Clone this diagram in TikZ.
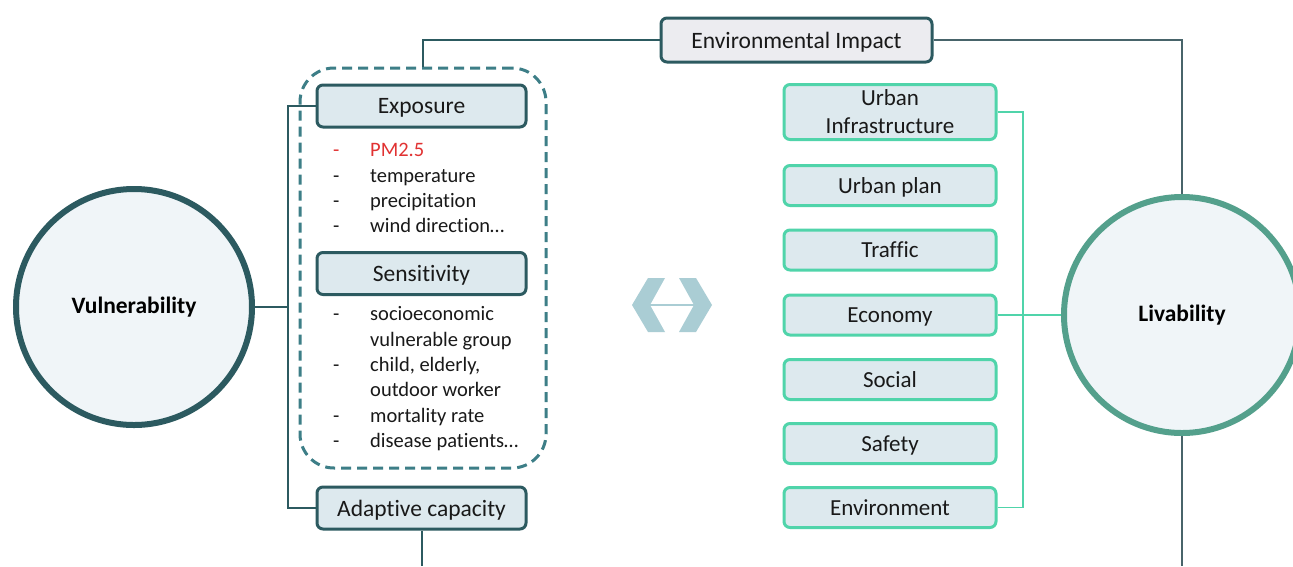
\documentclass[tikz,border=0pt]{standalone}
\usepackage{fontspec}
\setmainfont{Carlito}[Ligatures={NoCommon}]
\usetikzlibrary{calc}
\definecolor{darkc}{RGB}{44,90,96}
\definecolor{dashc}{RGB}{61,126,135}
\definecolor{greenc}{RGB}{80,212,170}
\definecolor{livc}{RGB}{84,160,140}
\definecolor{linec}{RGB}{72,100,106}
\definecolor{circfill}{RGB}{240,245,248}
\definecolor{boxfill}{RGB}{221,233,238}
\definecolor{envfill}{RGB}{236,236,240}
\definecolor{iconc}{RGB}{170,205,212}
\definecolor{redc}{RGB}{225,50,50}
\definecolor{textc}{RGB}{25,25,25}
\tikzset{
  bigcircle/.style={circle, minimum size=236pt, line width=6pt, fill=circfill, inner sep=0pt,
     font=\fontsize{23.5}{26}\selectfont\bfseries, text=black},
  darkbox/.style={draw=darkc, line width=3pt, rounded corners=6pt, fill=boxfill,
     minimum width=209pt, minimum height=42pt, inner sep=0pt, text=textc, text depth=0pt,
     font=\fontsize{23.5}{26}\selectfont},
  greenbox/.style={draw=greenc, line width=3pt, rounded corners=6pt, fill=boxfill,
     minimum width=212pt, minimum height=40pt, inner sep=0pt, text=textc, align=center,
     font=\fontsize{23}{28}\selectfont},
  dashbox/.style={draw=dashc, line width=3pt, dash pattern=on 10pt off 6pt, rounded corners=34pt,
     minimum width=246pt, minimum height=400pt, inner sep=0pt},
  darkline/.style={draw=darkc, line width=2pt},
  greyline/.style={draw=linec, line width=2pt},
  greenline/.style={draw=greenc, line width=1.8pt},
  listtext/.style={anchor=north west, inner sep=0pt, text=textc, font=\fontsize{20.5}{25.3}\selectfont},
}
\begin{document}
\begin{tikzpicture}[x=1pt,y=-1pt]
\useasboundingbox[fill=white] (0,0) rectangle (1293,566);

% dashed group
\node[dashbox] (grp) at (423,268) {};

% circles
\node[bigcircle, draw=darkc] (vul) at (134,307) {Vulnerability};
\node[bigcircle, draw=livc] (liv) at (1182,315) {Livability};

% top box
\node[darkbox, fill=envfill, minimum width=271pt, minimum height=44pt] (env) at (796.5,40) {Environmental Impact};

% left boxes
\node[darkbox] (expo) at (421.5,106) {Exposure};
\node[darkbox] (sens) at (421.5,273.5) {Sensitivity};
\node[darkbox] (adapt) at (421.5,508) {Adaptive capacity};

% lists
\node[listtext] (elist) at (333,139) {\begin{tabular}{@{}p{37pt}@{}l@{}}
\textcolor{redc}{-} & \textcolor{redc}{PM2.5}\\
- & temperature\\
- & precipitation\\
- & wind direction…
\end{tabular}};
\node[listtext] (slist) at (333,303) {\begin{tabular}{@{}p{37pt}@{}l@{}}
- & socioeconomic\\
  & vulnerable group\\
- & child, elderly,\\
  & outdoor worker\\
- & mortality rate\\
- & disease patients…
\end{tabular}};

% right boxes
\node[greenbox, minimum height=55pt] (ui) at (890,112) {Urban\\Infrastructure};
\node[greenbox, text depth=0pt] (plan) at (890,185.5) {Urban plan};
\node[greenbox, text depth=0pt] (traf) at (890,250) {Traffic};
\node[greenbox, text depth=0pt] (eco) at (890,315) {Economy};
\node[greenbox, text depth=0pt] (soc) at (890,379.5) {Social};
\node[greenbox, text depth=0pt] (saf) at (890,443.5) {Safety};
\node[greenbox, text depth=0pt] (envr) at (890,507.5) {Environment};

% coordinates
\coordinate (vbus) at (288,307);
\coordinate (gbus) at (1023,112);
\coordinate (abot) at (421.5,566);
\coordinate (lbot) at (1182,566);

% connectors left
\draw[darkline] (vul.east) -- (vbus);
\draw[darkline] (expo.west) -| (vbus) |- (adapt.west);
\draw[darkline] (adapt.south) -- (abot);
\draw[darkline] (env.west) -| (grp.north);
\draw[greyline] (env.east) -| (liv.north);
\draw[greyline] (liv.south) -- (lbot);

% connectors right
\draw[greenline] (ui.east) -- (gbus) |- (envr.east);
\draw[greenline] (eco.east) -- (liv.west);

% double arrow icon
\fill[iconc] (632,305) -- (648,278) -- (665,278) -- (650,305) -- (665,332) -- (648,332) -- cycle;
\fill[iconc] (712,305) -- (696,278) -- (679,278) -- (694,305) -- (679,332) -- (696,332) -- cycle;
\draw[iconc, line width=1.5pt] (646,305) -- (698,305);
\end{tikzpicture}
\end{document}
